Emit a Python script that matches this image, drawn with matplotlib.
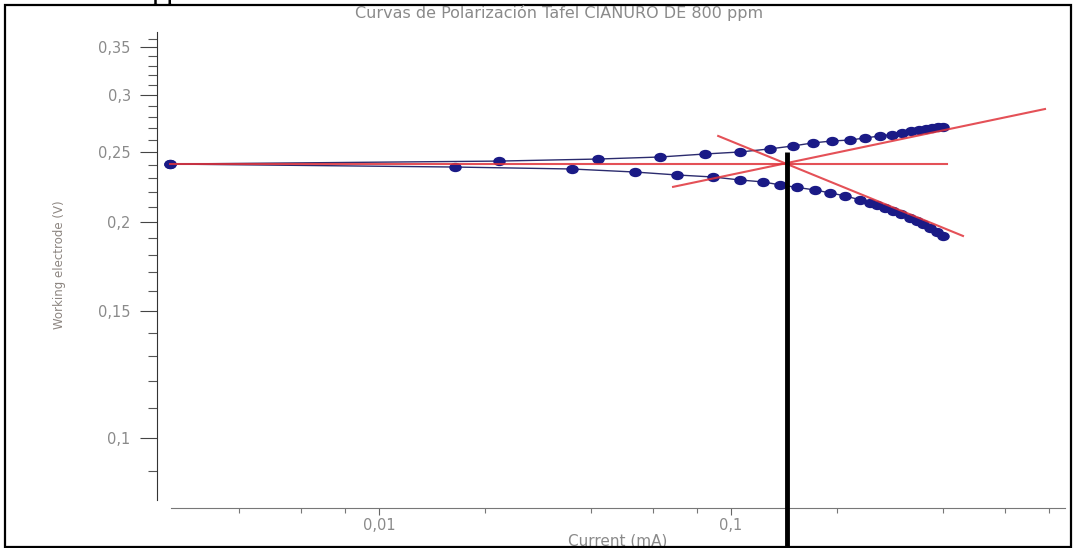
import matplotlib
matplotlib.use("Agg")
import matplotlib.pyplot as plt
import numpy as np
from matplotlib.path import Path
from matplotlib.transforms import Affine2D
from matplotlib.patches import Rectangle
from matplotlib.ticker import FixedLocator, FixedFormatter, NullFormatter

# anodic branch (upper) and cathodic branch (lower), current in mA, potential in V
i_anod = [0.00255, 0.0219, 0.0419, 0.0628, 0.0844, 0.106, 0.129, 0.150, 0.171, 0.194,
          0.218, 0.240, 0.265, 0.287, 0.306, 0.325, 0.342, 0.358, 0.372, 0.387, 0.400]
e_anod = [0.2407, 0.2430, 0.2446, 0.2462, 0.2486, 0.2502, 0.2527, 0.2551, 0.2576, 0.2592,
          0.2600, 0.2617, 0.2634, 0.2646, 0.2659, 0.2672, 0.2681, 0.2690, 0.2698, 0.2707, 0.2715]

i_cat = [0.00255, 0.0164, 0.0353, 0.0534, 0.0702, 0.0889, 0.106, 0.123, 0.138, 0.154,
         0.173, 0.191, 0.211, 0.233, 0.248, 0.260, 0.274, 0.289, 0.304, 0.323,
         0.338, 0.351, 0.368, 0.385, 0.400]
e_cat = [0.2407, 0.2384, 0.2369, 0.2346, 0.2324, 0.2309, 0.2287, 0.2273, 0.2251, 0.2233,
         0.2215, 0.2194, 0.2173, 0.2145, 0.2125, 0.2111, 0.2091, 0.2071, 0.2048, 0.2025,
         0.2005, 0.1986, 0.1961, 0.1936, 0.1911]

# Tafel fit lines
ecorr_i = [0.00255, 0.411]
ecorr_e = [0.2407, 0.2407]
anod_fit_i = [0.0684, 0.780]
anod_fit_e = [0.2237, 0.2872]
cat_fit_i = [0.0919, 0.456]
cat_fit_e = [0.2634, 0.1911]

# corrosion current marker
icorr = 0.144
icorr_e = [0.2502, 0.0705]

y_ticks = [0.1, 0.15, 0.2, 0.25, 0.3, 0.35]
y_labels = ["0,1", "0,15", "0,2", "0,25", "0,3", "0,35"]
y_minor = [0.09, 0.11, 0.12, 0.13, 0.14, 0.16, 0.17, 0.18, 0.19, 0.21, 0.22, 0.23,
           0.24, 0.26, 0.27, 0.28, 0.29, 0.31, 0.32, 0.33, 0.34, 0.36]
x_ticks = [0.01, 0.1]
x_labels = ["0,01", "0,1"]
x_minor = [0.004, 0.006, 0.008, 0.02, 0.04, 0.06, 0.08, 0.2, 0.4, 0.6, 0.8]

W, H = 1073, 548
fig = plt.figure(figsize=(W / 100, H / 100), dpi=100)
ax = fig.add_axes([171 / W, (H - 500) / H, (1065 - 171) / W, (500 - 32) / H])

ax.set_xscale("log")
ax.set_yscale("log")
ax.set_xlim(0.00256, 0.889)
ax.set_ylim(0.0819, 0.3677)

# slightly wide dots
dot = Path.unit_circle().transformed(Affine2D().scale(1.4, 1.0))
navy = "#1a1a86"
for xi, yi in [(i_anod, e_anod), (i_cat, e_cat)]:
    ax.plot(xi, yi, color="#2b2b6e", lw=1.0, marker=dot, ms=8,
            mfc=navy, mec=navy, clip_on=False, zorder=3)

red = "#e0323a"
for fi, fe in [(ecorr_i, ecorr_e), (anod_fit_i, anod_fit_e), (cat_fit_i, cat_fit_e)]:
    ax.plot(fi, fe, color=red, lw=1.5, alpha=0.85, zorder=4, clip_on=False)
ax.plot([icorr, icorr], icorr_e, color="black", lw=3.5, zorder=5, clip_on=False,
        solid_capstyle="butt")

# axes drawn apart from each other
for s in ["top", "right"]:
    ax.spines[s].set_visible(False)
ax.spines["left"].set_position(("outward", 10))
ax.spines["bottom"].set_position(("outward", 6))
ax.spines["left"].set_color("#333333")
ax.spines["bottom"].set_color("#777777")

gray = "#8a8a8a"
ax.yaxis.set_major_locator(FixedLocator(y_ticks))
ax.yaxis.set_major_formatter(FixedFormatter(y_labels))
ax.yaxis.set_minor_locator(FixedLocator(y_minor))
ax.yaxis.set_minor_formatter(NullFormatter())
ax.xaxis.set_major_locator(FixedLocator(x_ticks))
ax.xaxis.set_major_formatter(FixedFormatter(x_labels))
ax.xaxis.set_minor_locator(FixedLocator(x_minor))
ax.xaxis.set_minor_formatter(NullFormatter())

ax.tick_params(axis="y", which="major", length=12, width=0.8, color="#444444",
               labelsize=10.5, labelcolor=gray, pad=7)
ax.tick_params(axis="y", which="minor", length=6.5, width=0.8, color="#555555")
ax.tick_params(axis="x", which="major", length=5, width=0.8, color="#666666",
               labelsize=10.5, labelcolor=gray, pad=2)
ax.tick_params(axis="x", which="minor", length=3.5, width=0.8, color="#777777")

ax.set_xlabel("Current (mA)", fontsize=11, color=gray, labelpad=0)
fig.text(59 / W, 1 - 265 / H, "Working electrode (V)", rotation=90, fontsize=8.5,
         color="#8c8580", ha="center", va="center")
fig.text(559 / W, 1 - 13 / H, "Curvas de Polarización Tafel CIANURO DE 800 ppm",
         fontsize=11.5, color=gray, ha="center", va="center")

# page fragment above the frame
fig.text(152 / W, 1 + 2 / H, "pp", family="Liberation Serif", fontsize=22,
         color="black", ha="left", va="baseline")

# frame around the figure
fig.patches.append(Rectangle((5 / W, 1 / H), (1071 - 5) / W, (543 - 1) / H,
                             transform=fig.transFigure, fill=False,
                             edgecolor="black", lw=1.6))

fig.savefig("out.png", dpi=100)
